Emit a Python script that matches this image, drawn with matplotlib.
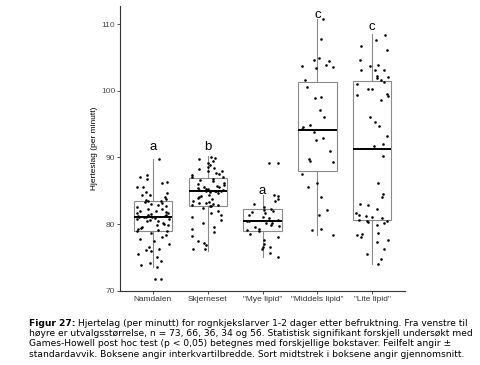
import matplotlib
matplotlib.use('Agg')
import matplotlib.pyplot as plt
import numpy as np

# kategorier og bokstaver (signifikansgrupper)
groups = ['Namdalen', 'Skjerneset', '"Mye lipid"', '"Middels lipid"', '"Lite lipid"']
letters = ['a', 'b', 'a', 'c', 'c']
letter_y = [91.05, 91.05, 84.55, 111.0, 109.2]

# hjerteslag per minutt
namdalen = [89.7, 87.3, 87.1, 86.7, 86.3, 86.1, 85.6, 85.5, 84.8, 84.6, 84.4, 84.3, 84.0, 83.8,
            83.6, 83.5, 83.4, 83.3,
            83.2, 83.0, 82.9, 82.7, 82.5, 82.3, 82.2, 82.0, 81.9, 81.8, 81.7, 81.6, 81.5, 81.4,
            81.3, 81.2, 81.2, 81.1, 81.1,
            81.0, 81.0, 80.9, 80.8, 80.7, 80.6, 80.5, 80.4, 80.2, 80.0, 79.9, 79.8, 79.6, 79.4,
            79.3, 79.1, 79.0, 78.9,
            78.6, 78.3, 78.0, 77.8, 77.4, 77.0, 76.6, 76.3, 76.1, 75.9, 75.5, 75.1, 74.5, 74.1,
            73.9, 73.5, 71.7, 71.7]
skjerneset = [90.1, 89.9, 89.8, 89.5, 89.2, 88.9, 88.6, 88.4, 88.2, 88.0, 87.9, 87.7, 87.5, 87.3,
              87.1, 87.0,
              86.8, 86.6, 86.4, 86.2, 86.0, 85.9, 85.7, 85.6, 85.5, 85.4, 85.3, 85.2, 85.1, 85.1,
              85.0, 85.0, 84.95,
              84.9, 84.8, 84.6, 84.4, 84.2, 84.0, 83.9, 83.7, 83.5, 83.3, 83.2, 83.1, 83.0, 82.9,
              82.8, 82.7, 82.7,
              82.4, 82.0, 81.7, 81.3, 81.0, 80.6, 80.2, 79.6, 79.3, 78.8, 78.2, 77.5, 77.2, 76.9,
              76.2, 76.2]
mye_lipid = [89.1, 89.1, 84.4, 84.2, 83.8, 83.4, 83.0, 82.6, 82.3,
             82.1, 82.0, 81.8, 81.6, 81.3, 81.1, 80.9, 80.6, 80.4,
             80.4, 80.2, 80.1, 79.9, 79.7, 79.5, 79.3, 79.1, 78.9,
             78.5, 78.0, 77.6, 77.0, 76.6, 76.6, 76.2, 75.6, 75.0]
middels_lipid = [110.85, 107.8, 105.0, 104.7, 104.5, 103.9, 103.6, 103.7, 103.4, 101.6, 100.6,
                 99.0, 99.1, 97.1, 96.1, 94.9, 94.6, 94.3, 93.8, 93.0, 92.6, 90.9, 89.7, 89.3,
                 89.4, 87.5, 86.1, 85.5, 84.0, 82.1, 81.3, 79.3, 79.1, 78.4]
lite_lipid = [108.4, 107.7, 106.7, 106.1, 104.6, 103.9, 103.8, 103.1, 103.1, 103.2, 102.2, 102.1,
              102.0, 101.7, 101.3, 101.1, 100.3, 100.3, 99.6, 99.4, 99.3, 98.6, 96.1, 95.3, 94.7,
              93.2, 92.0, 91.8, 90.2, 86.2, 84.5, 84.1, 83.0, 82.9, 82.2, 81.7, 81.3, 81.2, 81.05,
              80.9, 80.6, 80.5, 80.4, 80.3, 80.2, 79.9, 78.7, 78.55, 78.3, 78.1, 77.6, 77.3, 76.2,
              75.55, 74.8, 74.05]
values = [namdalen, skjerneset, mye_lipid, middels_lipid, lite_lipid]

# boksplott-statistikk
q1 = [78.9, 82.65, 78.9, 88.0, 80.55]
med = [81.05, 84.95, 80.4, 94.15, 91.2]
q3 = [83.45, 86.9, 82.2, 101.35, 101.5]
whislo = [73.5, 75.9, 75.05, 78.3, 73.95]
whishi = [89.7, 90.2, 84.3, 110.75, 108.5]

fig = plt.figure(figsize=(4.8, 3.65), dpi=100)
ax = fig.add_axes([0.25, 1 - 291 / 365, 0.594, 285 / 365])

stats = []
for i in range(len(groups)):
    stats.append({'q1': q1[i], 'med': med[i], 'q3': q3[i],
                  'whislo': whislo[i], 'whishi': whishi[i], 'fliers': []})

box_grey = '#8a8a8a'
ax.bxp(stats, positions=range(len(groups)), widths=0.7, patch_artist=True,
       showcaps=False, showfliers=False,
       boxprops=dict(facecolor='white', edgecolor=box_grey, linewidth=0.8),
       whiskerprops=dict(color=box_grey, linewidth=0.8),
       medianprops=dict(color='black', linewidth=1.4))

# horisontal jitter som i geom_jitter (kun posisjon, ikke verdier)
rng = np.random.default_rng(27)
for i, vals in enumerate(values):
    offs = rng.uniform(-0.3, 0.3, len(vals))
    ax.scatter(i + offs, vals, s=3.5, color='black', linewidths=0, zorder=5)

for i, (lab, ly) in enumerate(zip(letters, letter_y)):
    ax.text(i, ly, lab, ha='center', va='baseline', fontsize=9.5,
            family='Liberation Sans', zorder=6)

ax.set_xlim(-0.6, 4.6)
ax.set_ylim(69.95, 112.75)
ax.set_yticks([70, 80, 90, 100, 110])
ax.set_xticks(range(len(groups)))
ax.set_xticklabels(groups, family='Liberation Sans', fontsize=6, color='#333333')
for t in ax.get_yticklabels():
    t.set_family('Liberation Sans')
    t.set_fontsize(6)
    t.set_color('#4d4d4d')
ax.tick_params(length=2.2, width=0.6, color='#333333', pad=1.2)
ax.set_ylabel('Hjerteslag (per minutt)', family='Liberation Sans', fontsize=6, labelpad=2.5)

for s in ['top', 'right']:
    ax.spines[s].set_visible(False)
for s in ['left', 'bottom']:
    ax.spines[s].set_color('#333333')
    ax.spines[s].set_linewidth(0.8)

# figurtekst
cap_font = dict(family='DejaVu Sans', fontsize=6.6, color='black')
x0 = 29 / 480
bold = fig.text(x0, 1 - 325.5 / 365, 'Figur 27:', fontweight='bold', va='baseline', **cap_font)
fig.canvas.draw()
bb = bold.get_window_extent()
fig.text((bb.x1 + 3) / 480, 1 - 325.5 / 365,
         'Hjertelag (per minutt) for rognkjekslarver 1-2 dager etter befruktning. Fra venstre til',
         va='baseline', **cap_font)
lines = ['høyre er utvalgsstørrelse, n = 73, 66, 36, 34 og 56. Statistisk signifikant forskjell undersøkt med',
         'Games-Howell post hoc test (p < 0,05) betegnes med forskjellige bokstaver. Feilfelt angir ±',
         'standardavvik. Boksene angir interkvartilbredde. Sort midtstrek i boksene angir gjennomsnitt.']
for k, line in enumerate(lines):
    fig.text(x0, 1 - (335.9 + 10.4 * k) / 365, line, va='baseline', **cap_font)

fig.savefig('out.png', dpi=100, facecolor='white')
